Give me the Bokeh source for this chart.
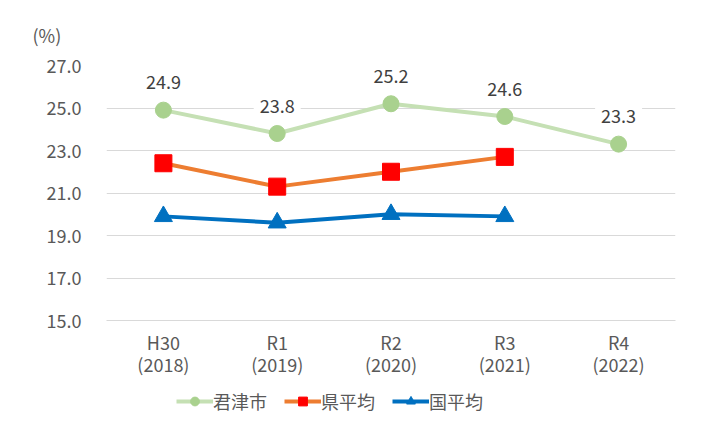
from bokeh.plotting import figure
from bokeh.layouts import column
from bokeh.models import (ColumnDataSource, Legend, LegendItem,
                          FactorRange, NumeralTickFormatter, FixedTicker, Range1d)
from bokeh.core.properties import value
from bokeh.embed import file_html
from bokeh.resources import INLINE

categories = ["H30\n(2018)", "R1\n(2019)", "R2\n(2020)", "R3\n(2021)", "R4\n(2022)"]
kimitsu = [24.9, 23.8, 25.2, 24.6, 23.3]
ken = [22.4, 21.3, 22.0, 22.7]
kuni = [19.9, 19.6, 20.0, 19.9]
y_ticks = [15, 17, 19, 21, 23, 25, 27]
series_names = ["君津市", "県平均", "国平均"]
unit_label = "(%)"

FONT = "Noto Sans CJK JP"
TXT = "#595959"

styles = [
    dict(line_color="#C5E0B4", marker="circle", size=16, color="#A9D18E"),
    dict(line_color="#ED7D31", marker="square", size=17, color="#FF0000"),
    dict(line_color="#0070C0", marker="triangle", size=18, color="#0070C0"),
]
series = [kimitsu, ken, kuni]

p = figure(width=700, height=379, x_range=FactorRange(factors=categories, range_padding=0),
           y_range=Range1d(15, 27), output_backend="svg", toolbar_location=None,
           min_border_left=106, min_border_right=25, min_border_top=65, min_border_bottom=56,
           title=unit_label)
p.outline_line_color = None
p.background_fill_color = "white"
p.border_fill_color = "white"
p.title.align = "left"
p.title.offset = -74
p.title.standoff = 35
p.title.text_font = FONT
p.title.text_font_size = "18px"
p.title.text_font_style = "normal"
p.title.text_color = TXT

p.xgrid.grid_line_color = None
p.ygrid.grid_line_color = "#d9d9d9"
p.ygrid.grid_line_width = 1
p.yaxis.ticker = FixedTicker(ticks=y_ticks)
p.yaxis.formatter = NumeralTickFormatter(format="0.0")
p.yaxis.axis_line_color = None
p.yaxis.major_tick_line_color = None
p.yaxis.minor_tick_line_color = None
p.yaxis.major_tick_out = 0
p.yaxis.major_label_standoff = 25
for ax in (p.xaxis, p.yaxis):
    ax.major_label_text_font = FONT
    ax.major_label_text_font_size = "18px"
    ax.major_label_text_color = TXT
p.xaxis.axis_line_color = "#d9d9d9"
p.xaxis.major_tick_line_color = None
p.xaxis.major_tick_out = 0
p.xaxis.major_label_standoff = 8
p.xaxis.major_label_text_line_height = 0.85

sources = [
    ColumnDataSource(dict(x=categories[:len(kimitsu)], y=kimitsu, t=[f"{v:.1f}" for v in kimitsu])),
    ColumnDataSource(dict(x=categories[:len(ken)], y=ken)),
    ColumnDataSource(dict(x=categories[:len(kuni)], y=kuni)),
]
for src, st in zip(sources, styles):
    p.line("x", "y", source=src, line_color=st["line_color"], line_width=4)
    p.scatter("x", "y", source=src, marker=st["marker"], size=st["size"],
              fill_color=st["color"], line_color=st["color"])

p.text("x", "y", text="t", source=sources[0], y_offset=-28, text_align="center",
       text_baseline="middle", text_font=value(FONT), text_font_size="18px", text_color="#404040",
       background_fill_color="white", padding=6)

# legend strip below the chart (its series lie outside this strip's visible range)
lg = figure(width=700, height=45, x_range=Range1d(0, 1), y_range=Range1d(0, 1),
            output_backend="svg", toolbar_location=None, min_border=0)
lg.axis.visible = False
lg.grid.grid_line_color = None
lg.outline_line_color = None
items = []
for name, st, vals in zip(series_names, styles, series):
    lr = lg.line(x=list(range(len(vals))), y=vals, line_color=st["line_color"], line_width=4)
    mr = lg.scatter(x=list(range(len(vals))), y=vals, marker=st["marker"], size=st["size"],
                    fill_color=st["color"], line_color=st["color"])
    items.append(LegendItem(label=name, renderers=[lr, mr]))
legend = Legend(items=items, orientation="horizontal", location=(70, 10), padding=0, margin=0,
                spacing=17, glyph_width=37, glyph_height=22, label_standoff=0,
                label_text_font=FONT, label_text_font_size="18px", label_text_color=TXT,
                border_line_color=None, background_fill_alpha=0)
lg.add_layout(legend)

open("out.html", "w").write(file_html(column(p, lg), INLINE))
